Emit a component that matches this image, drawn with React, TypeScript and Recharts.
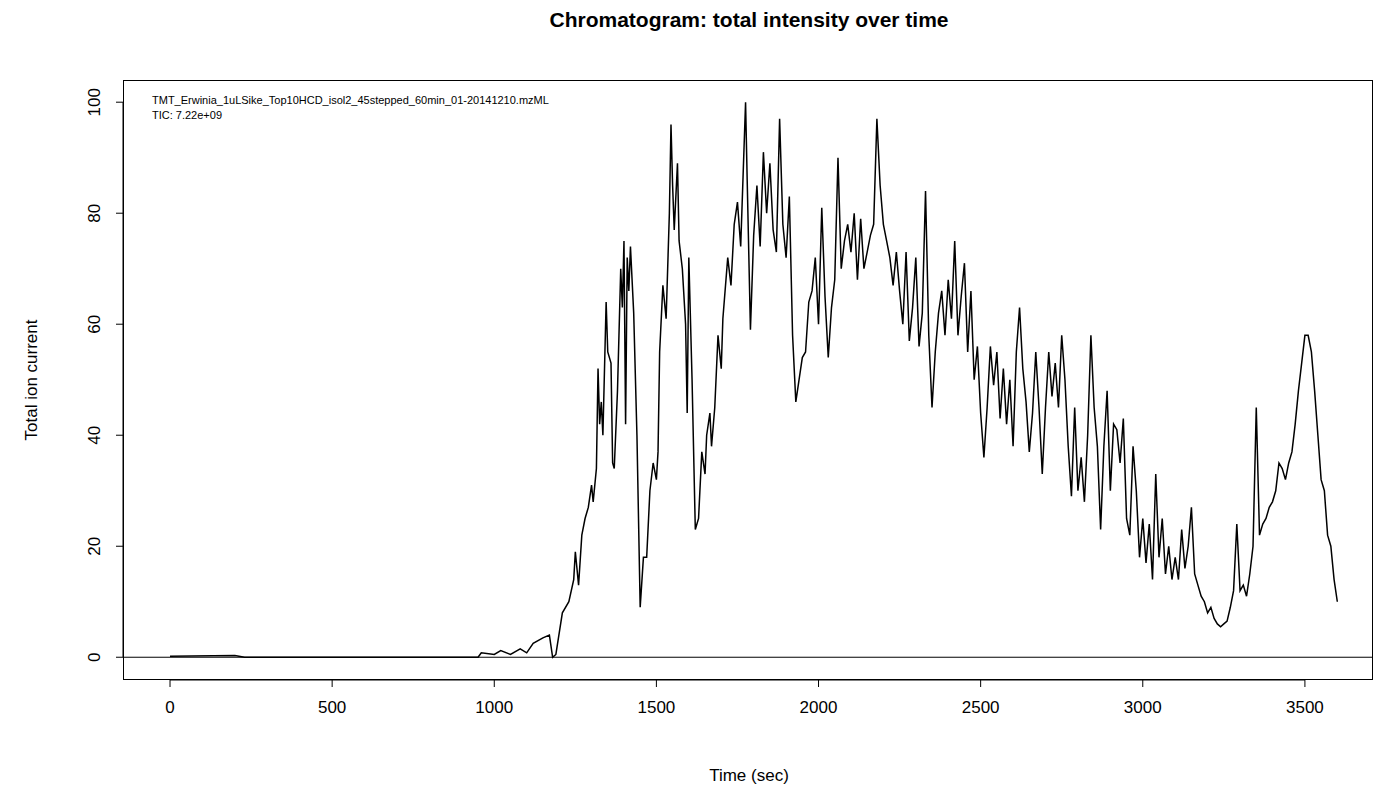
import React from "react";
import { LineChart, Line, XAxis, YAxis, ReferenceLine } from "recharts";

const times = [0, 200, 230, 950, 960, 1000, 1020, 1050, 1080, 1100, 1120, 1150, 1170, 1180, 1190, 1210, 1230, 1245, 1250, 1260, 1270, 1280, 1290, 1300, 1305, 1315, 1320, 1325, 1330, 1335, 1345, 1350, 1360, 1365, 1370, 1380, 1390, 1395, 1400, 1405, 1410, 1415, 1420, 1430, 1440, 1450, 1460, 1470, 1480, 1490, 1500, 1505, 1510, 1520, 1530, 1540, 1545, 1550, 1555, 1565, 1570, 1580, 1590, 1595, 1600, 1610, 1620, 1630, 1640, 1650, 1655, 1665, 1670, 1680, 1690, 1700, 1705, 1720, 1730, 1740, 1750, 1760, 1775, 1780, 1790, 1800, 1810, 1820, 1830, 1840, 1850, 1860, 1870, 1880, 1890, 1900, 1910, 1920, 1930, 1940, 1950, 1960, 1970, 1980, 1990, 2000, 2010, 2020, 2030, 2040, 2050, 2060, 2070, 2080, 2090, 2100, 2110, 2120, 2130, 2140, 2150, 2160, 2170, 2180, 2190, 2200, 2210, 2220, 2230, 2240, 2250, 2260, 2270, 2280, 2290, 2300, 2310, 2320, 2330, 2340, 2350, 2360, 2370, 2380, 2390, 2400, 2410, 2420, 2430, 2440, 2450, 2460, 2470, 2480, 2490, 2500, 2510, 2520, 2530, 2540, 2550, 2560, 2570, 2580, 2590, 2600, 2610, 2620, 2630, 2640, 2650, 2660, 2670, 2680, 2690, 2700, 2710, 2720, 2730, 2740, 2750, 2760, 2770, 2780, 2790, 2800, 2810, 2820, 2830, 2840, 2850, 2860, 2870, 2880, 2890, 2900, 2910, 2920, 2930, 2940, 2950, 2960, 2970, 2980, 2990, 3000, 3010, 3020, 3030, 3040, 3050, 3060, 3070, 3080, 3090, 3100, 3110, 3120, 3130, 3140, 3150, 3160, 3170, 3180, 3190, 3200, 3210, 3220, 3230, 3240, 3250, 3260, 3270, 3280, 3290, 3300, 3310, 3320, 3330, 3340, 3350, 3360, 3370, 3380, 3390, 3400, 3410, 3420, 3430, 3440, 3450, 3460, 3470, 3480, 3490, 3500, 3510, 3520, 3530, 3540, 3550, 3560, 3570, 3580, 3590, 3600];

const intensity = [0.2, 0.3, 0, 0, 0.8, 0.5, 1.2, 0.5, 1.5, 0.8, 2.5, 3.5, 4, 0, 0.5, 8, 10, 14, 19, 13, 22, 25, 27, 31, 28, 34, 52, 42, 46, 40, 64, 55, 53, 35, 34, 48, 70, 63, 75, 42, 72, 66, 74, 62, 40, 9, 18, 18, 30, 35, 32, 37, 55, 67, 61, 80, 96, 85, 77, 89, 75, 70, 60, 44, 72, 50, 23, 25, 37, 33, 40, 44, 38, 45, 58, 52, 61, 72, 67, 78, 82, 74, 100, 86, 59, 76, 85, 74, 91, 80, 89, 77, 73, 97, 78, 72, 83, 58, 46, 50, 54, 55, 64, 66, 72, 60, 81, 65, 54, 63, 68, 90, 70, 75, 78, 73, 80, 68, 79, 70, 73, 76, 78, 97, 85, 78, 75, 72, 67, 73, 66, 60, 73, 57, 63, 72, 56, 62, 84, 58, 45, 55, 62, 66, 58, 68, 61, 75, 58, 65, 71, 55, 66, 50, 56, 44, 36, 45, 56, 49, 55, 43, 52, 42, 50, 38, 55, 63, 52, 46, 37, 44, 55, 45, 33, 45, 55, 47, 53, 45, 58, 50, 38, 29, 45, 30, 36, 28, 40, 58, 45, 38, 23, 38, 48, 30, 42, 41, 35, 43, 25, 22, 38, 30, 18, 25, 17, 24, 14, 33, 18, 25, 15, 20, 14, 18, 14, 23, 16, 20, 27, 15, 13, 11, 10, 8, 9, 7, 6, 5.5, 6, 6.5, 9, 12, 24, 12, 13, 11, 15, 20, 45, 22, 24, 25, 27, 28, 30, 35, 34, 32, 35, 37, 42, 48, 53, 58, 58, 55, 48, 40, 32, 30, 22, 20, 14, 10];

const xTicks = [0, 500, 1000, 1500, 2000, 2500, 3000, 3500];
const yTicks = [0, 20, 40, 60, 80, 100];

const data = times.map((t, i) => ({ t, v: intensity[i] }));

const font = "'Liberation Sans', Arial, sans-serif";

function YTick({ x, y, payload }: any) {
  return (
    <text x={x - 14} y={y} transform={`rotate(-90 ${x - 14} ${y})`} textAnchor="middle" fontSize={17} fontFamily={font} fill="#000">
      {payload.value}
    </text>
  );
}

export default function App() {
  return (
    <div style={{ position: "absolute", left: 0, top: 0, width: 1375, height: 794, background: "#fff", fontFamily: font }}>
      <LineChart width={1375} height={794} data={data} margin={{ top: 80, right: 2, bottom: 0, left: 0 }}>
        <XAxis
          dataKey="t"
          type="number"
          domain={[-145, 3710]}
          allowDataOverflow
          ticks={xTicks}
          axisLine={false}
          tickLine={{ stroke: "#000" }}
          tickSize={7}
          tick={{ fontSize: 17, fill: "#000", fontFamily: font, dy: 12 }}
          height={114}
        />
        <YAxis
          type="number"
          domain={[-4.1, 104]}
          allowDataOverflow
          ticks={yTicks}
          axisLine={false}
          tickLine={{ stroke: "#000" }}
          tickSize={7}
          tick={<YTick />}
          width={123}
        />
        <ReferenceLine y={0} stroke="#000" strokeWidth={1} />
        <ReferenceLine segment={[{ x: 0, y: -4.1 }, { x: 3500, y: -4.1 }]} stroke="#000" ifOverflow="visible" />
        <ReferenceLine segment={[{ x: -145, y: 0 }, { x: -145, y: 100 }]} stroke="#000" ifOverflow="visible" />
        <Line type="linear" dataKey="v" stroke="#000" strokeWidth={1.5} dot={false} isAnimationActive={false} />
      </LineChart>
      <div style={{ position: "absolute", left: 123, top: 80, width: 1250, height: 600, border: "1px solid #000", boxSizing: "border-box", pointerEvents: "none" }} />
      <div style={{ position: "absolute", top: 8, left: 0, width: 1375, paddingLeft: 123, boxSizing: "border-box", textAlign: "center", fontSize: 21, fontWeight: "bold" }}>
        Chromatogram: total intensity over time
      </div>
      <div style={{ position: "absolute", left: 152, top: 93, fontSize: 11, lineHeight: "15px" }}>
        TMT_Erwinia_1uLSike_Top10HCD_isol2_45stepped_60min_01-20141210.mzML<br />TIC: 7.22e+09
      </div>
      <div style={{ position: "absolute", top: 766, left: 0, width: 1375, paddingLeft: 123, boxSizing: "border-box", textAlign: "center", fontSize: 17 }}>
        Time (sec)
      </div>
      <div style={{ position: "absolute", left: 32, top: 380, transform: "translate(-50%, -50%) rotate(-90deg)", fontSize: 17, whiteSpace: "nowrap" }}>
        Total ion current
      </div>
    </div>
  );
}
